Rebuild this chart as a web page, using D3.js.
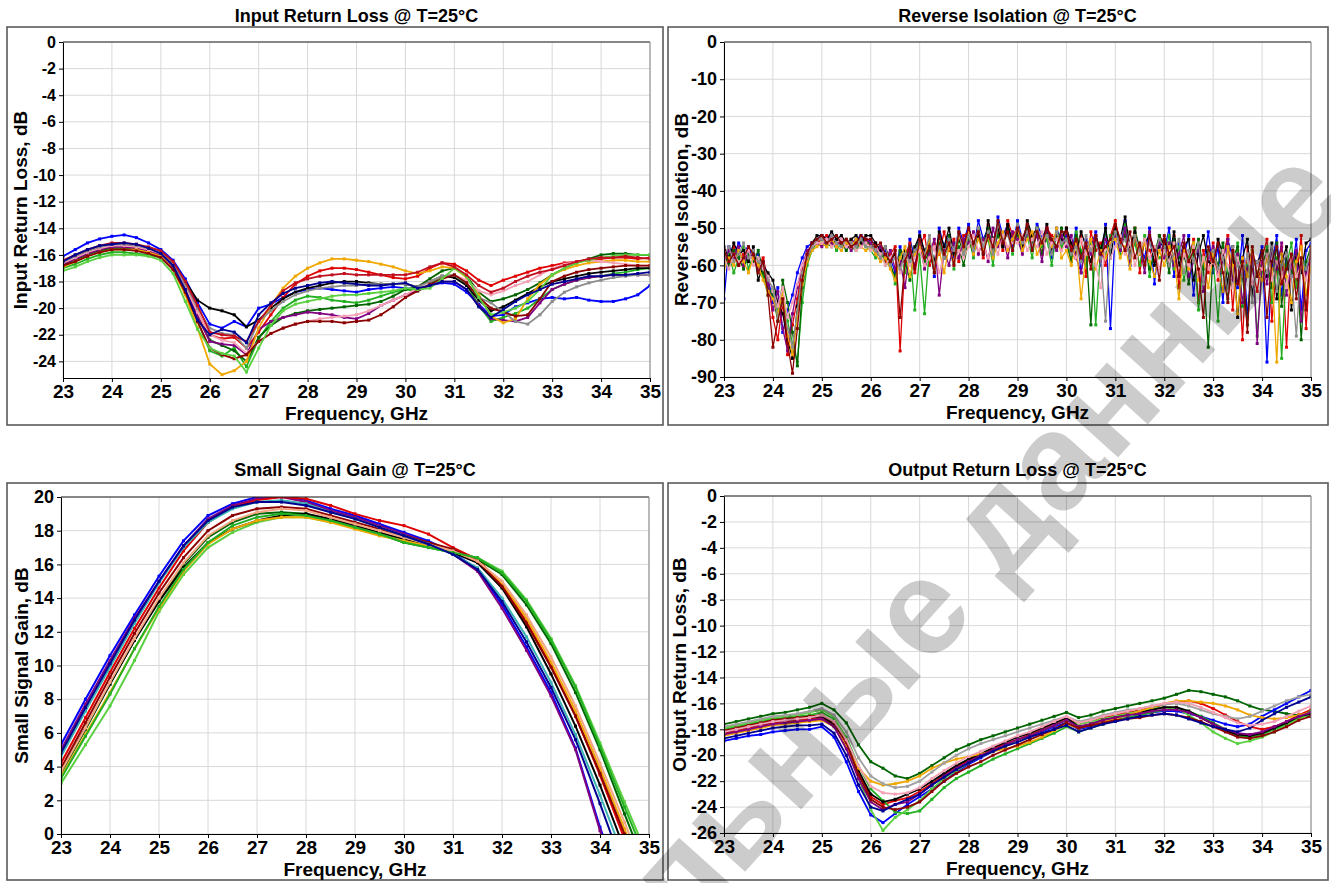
<!DOCTYPE html>
<html>
<head>
<meta charset="utf-8">
<script src="https://cdn.jsdelivr.net/npm/d3@7"></script>
<style>
  body { margin: 0; background: #fff; }
  svg text { font-family: "Liberation Sans", Arial, sans-serif; font-weight: bold; }
</style>
</head>
<body>
<svg id="chart" width="1331" height="883"></svg>
<script>
/*
 * Data
 */
var freqTicks = [23, 24, 25, 26, 27, 28, 29, 30, 31, 32, 33, 34, 35];

// 0.25 GHz sweep used by the return loss traces
var freqQ = [23, 23.25, 23.5, 23.75, 24, 24.25, 24.5, 24.75, 25, 25.25, 25.5, 25.75, 26, 26.25, 26.5, 26.75,
    27, 27.25, 27.5, 27.75, 28, 28.25, 28.5, 28.75, 29, 29.25, 29.5, 29.75, 30, 30.25, 30.5, 30.75,
    31, 31.25, 31.5, 31.75, 32, 32.25, 32.5, 32.75, 33, 33.25, 33.5, 33.75, 34, 34.25, 34.5, 34.75, 35];

// 0.5 GHz sweep used by the gain traces
var freqH = [23, 23.5, 24, 24.5, 25, 25.5, 26, 26.5, 27, 27.5, 28, 28.5, 29, 29.5, 30, 30.5,
    31, 31.5, 32, 32.5, 33, 33.5, 34, 34.5, 35];

// 0.1 GHz sweep used by the isolation traces
var freqT = [23, 23.1, 23.2, 23.3, 23.4, 23.5, 23.6, 23.7, 23.8, 23.9,
    24, 24.1, 24.2, 24.3, 24.4, 24.5, 24.6, 24.7, 24.8, 24.9,
    25, 25.1, 25.2, 25.3, 25.4, 25.5, 25.6, 25.7, 25.8, 25.9,
    26, 26.1, 26.2, 26.3, 26.4, 26.5, 26.6, 26.7, 26.8, 26.9,
    27, 27.1, 27.2, 27.3, 27.4, 27.5, 27.6, 27.7, 27.8, 27.9,
    28, 28.1, 28.2, 28.3, 28.4, 28.5, 28.6, 28.7, 28.8, 28.9,
    29, 29.1, 29.2, 29.3, 29.4, 29.5, 29.6, 29.7, 29.8, 29.9,
    30, 30.1, 30.2, 30.3, 30.4, 30.5, 30.6, 30.7, 30.8, 30.9,
    31, 31.1, 31.2, 31.3, 31.4, 31.5, 31.6, 31.7, 31.8, 31.9,
    32, 32.1, 32.2, 32.3, 32.4, 32.5, 32.6, 32.7, 32.8, 32.9,
    33, 33.1, 33.2, 33.3, 33.4, 33.5, 33.6, 33.7, 33.8, 33.9,
    34, 34.1, 34.2, 34.3, 34.4, 34.5, 34.6, 34.7, 34.8, 34.9, 35];

var irlTicks = [0, -2, -4, -6, -8, -10, -12, -14, -16, -18, -20, -22, -24];
var isoTicks = [0, -10, -20, -30, -40, -50, -60, -70, -80, -90];
var gainTicks = [0, 2, 4, 6, 8, 10, 12, 14, 16, 18, 20];
var orlTicks = [0, -2, -4, -6, -8, -10, -12, -14, -16, -18, -20, -22, -24, -26];

// Input return loss, dB (one row per device)
var irlTraces = [
    [-16.1,-15.6,-15.1,-14.8,-14.6,-14.5,-14.7,-15.1,-15.6,-16.4,-17.8,-19.6,-21.2,-21.5,-21.0,-21.4,-20.0,-19.7,-19.2,-18.8,-18.6,-18.5,-18.6,-18.7,-18.8,-18.6,-18.5,-18.4,-18.5,-18.6,-18.3,-18.1,-18.2,-18.8,-19.7,-20.6,-20.5,-19.9,-19.6,-19.3,-19.2,-19.3,-19.2,-19.4,-19.5,-19.5,-19.3,-19.0,-18.3],
    [-16.5,-16.1,-15.7,-15.4,-15.2,-15.2,-15.3,-15.6,-15.9,-16.8,-18.4,-20.3,-22.0,-22.3,-22.2,-23.0,-21.8,-20.5,-19.2,-18.2,-17.6,-17.2,-17.0,-17.0,-17.1,-17.3,-17.5,-17.7,-17.8,-17.6,-17.0,-16.6,-16.7,-17.2,-17.9,-18.3,-17.9,-17.6,-17.3,-17.0,-16.8,-16.6,-16.5,-16.4,-16.3,-16.2,-16.2,-16.3,-16.2],
    [-17.0,-16.7,-16.3,-16.0,-15.8,-15.8,-15.9,-16.0,-16.2,-17.0,-18.8,-21.0,-23.2,-23.6,-23.0,-24.4,-22.3,-21.0,-20.0,-19.4,-19.1,-19.2,-19.4,-19.5,-19.6,-19.4,-19.1,-18.8,-18.6,-18.7,-18.2,-17.6,-17.5,-18.2,-19.8,-21.0,-20.7,-20.4,-20.0,-19.3,-18.6,-18.2,-17.9,-17.7,-17.6,-17.4,-17.3,-17.1,-17.0],
    [-16.8,-16.4,-16.0,-15.7,-15.5,-15.5,-15.6,-15.8,-16.0,-16.9,-18.6,-20.6,-22.4,-22.8,-23.2,-24.0,-22.2,-21.3,-20.7,-20.4,-20.2,-20.1,-20.0,-19.9,-19.8,-19.7,-19.5,-19.1,-18.6,-18.4,-17.8,-17.2,-17.0,-17.6,-18.8,-19.5,-19.3,-19.0,-18.6,-18.1,-17.5,-17.0,-16.6,-16.3,-16.0,-15.9,-15.9,-16.0,-16.0],
    [-16.6,-16.2,-15.8,-15.5,-15.3,-15.2,-15.3,-15.5,-15.8,-16.7,-18.0,-19.4,-20.0,-20.2,-20.5,-21.4,-20.9,-20.0,-19.3,-18.8,-18.5,-18.3,-18.1,-18.0,-18.0,-18.1,-18.2,-18.2,-18.2,-18.4,-18.0,-17.6,-17.7,-18.3,-19.4,-20.2,-19.9,-19.4,-18.9,-18.4,-18.0,-17.8,-17.6,-17.4,-17.3,-17.2,-17.1,-17.0,-17.0],
    [-16.7,-16.3,-15.9,-15.6,-15.4,-15.4,-15.5,-15.7,-16.0,-16.9,-18.5,-20.6,-22.5,-22.7,-22.8,-23.5,-21.6,-21.0,-20.7,-20.5,-20.3,-20.4,-20.5,-20.7,-20.8,-20.4,-19.8,-19.4,-19.0,-18.7,-18.3,-18.0,-18.0,-18.6,-19.8,-20.8,-20.9,-21.0,-20.7,-19.6,-18.6,-18.2,-17.9,-17.7,-17.6,-17.5,-17.5,-17.5,-17.5],
    [-16.9,-16.5,-16.1,-15.8,-15.6,-15.6,-15.6,-15.8,-16.1,-17.1,-19.0,-21.5,-24.2,-25.0,-24.7,-24.0,-21.5,-19.8,-18.5,-17.6,-17.0,-16.6,-16.3,-16.3,-16.4,-16.5,-16.7,-16.9,-17.2,-17.4,-17.2,-16.9,-17.0,-17.7,-19.0,-20.6,-21.1,-20.8,-19.3,-18.2,-17.5,-17.1,-16.8,-16.6,-16.5,-16.4,-16.4,-16.5,-16.5],
    [-16.6,-16.2,-15.8,-15.5,-15.3,-15.3,-15.4,-15.6,-15.9,-16.8,-18.4,-20.3,-22.0,-22.4,-22.6,-23.4,-22.5,-21.9,-21.5,-21.2,-21.0,-20.8,-20.7,-20.6,-20.5,-20.2,-19.8,-19.4,-19.0,-18.5,-18.0,-17.6,-17.5,-17.9,-18.7,-19.0,-18.7,-18.3,-18.0,-17.5,-17.0,-16.7,-16.5,-16.4,-16.5,-16.6,-16.7,-16.8,-16.8],
    [-16.5,-16.1,-15.7,-15.4,-15.2,-15.2,-15.3,-15.5,-15.8,-16.6,-18.2,-20.0,-21.5,-21.9,-22.0,-23.0,-21.0,-20.2,-19.5,-19.0,-18.7,-18.5,-18.4,-18.3,-18.3,-18.2,-18.2,-18.2,-18.2,-18.4,-18.0,-17.6,-17.5,-18.1,-19.2,-19.6,-20.3,-21.0,-21.2,-20.5,-19.5,-18.8,-18.4,-18.1,-17.9,-17.7,-17.6,-17.5,-17.5],
    [-16.8,-16.5,-16.1,-15.8,-15.6,-15.6,-15.7,-15.9,-16.2,-17.1,-18.8,-21.0,-23.0,-23.5,-23.8,-23.5,-22.5,-21.9,-21.5,-21.2,-21.0,-21.0,-21.0,-21.1,-21.0,-20.9,-20.5,-19.9,-19.2,-18.7,-18.2,-17.8,-17.5,-18.1,-19.2,-20.0,-20.3,-20.6,-20.5,-19.3,-18.0,-17.6,-17.3,-17.1,-17.0,-16.9,-16.8,-16.8,-16.8],
    [-17.2,-16.9,-16.5,-16.2,-16.0,-16.0,-16.0,-16.1,-16.4,-17.4,-19.5,-21.6,-23.0,-23.4,-23.6,-24.8,-23.0,-21.3,-20.2,-19.7,-19.5,-19.3,-19.1,-19.0,-19.0,-18.9,-18.8,-18.7,-18.5,-18.6,-18.5,-17.8,-17.0,-17.6,-19.2,-20.5,-20.3,-20.0,-19.5,-18.6,-17.5,-17.0,-16.6,-16.4,-16.2,-16.1,-16.0,-16.0,-16.0],
    [-16.4,-16.0,-15.6,-15.3,-15.1,-15.1,-15.2,-15.4,-15.7,-16.5,-18.0,-19.8,-21.8,-22.0,-22.1,-22.5,-21.0,-19.8,-18.7,-18.1,-17.8,-17.6,-17.5,-17.4,-17.5,-17.5,-17.5,-17.5,-17.5,-17.3,-16.9,-16.6,-16.9,-17.5,-18.3,-18.8,-18.5,-18.0,-17.6,-17.3,-17.1,-16.8,-16.5,-16.3,-16.2,-16.2,-16.1,-16.2,-16.3],
    [-16.5,-16.0,-15.6,-15.3,-15.2,-15.1,-15.2,-15.5,-15.9,-16.8,-18.6,-20.9,-22.0,-21.6,-21.8,-22.6,-20.5,-19.6,-18.9,-18.5,-18.3,-18.1,-18.0,-18.1,-18.2,-18.3,-18.3,-18.2,-18.1,-18.5,-18.3,-18.0,-18.0,-18.6,-19.9,-20.7,-20.1,-19.5,-19.0,-18.6,-18.2,-18.0,-17.8,-17.6,-17.6,-17.5,-17.5,-17.4,-17.3]
];

// Reverse isolation, dB (0.1 GHz sweep, one row per device)
var isoTraces = [
    [-69,-55,-57,-54,-56,-55,-58,-57,-61,-63, -70,-66,-78,-72,-68,-62,-58,-55,-54,-53, -52,-53,-52,-54,-53,-55,-54,-53,-52,-54,
     -53,-55,-57,-56,-58,-62,-55,-60,-53,-58, -51,-57,-53,-63,-50,-55,-52,-58,-50,-54, -49,-56,-48,-53,-50,-57,-47,-52,-49,-55,
     -48,-53,-50,-56,-49,-52,-51,-58,-50,-54, -52,-57,-50,-62,-53,-55,-51,-60,-49,-77, -50,-56,-48,-60,-52,-55,-58,-50,-65,-53,
     -56,-50,-63,-54,-58,-52,-68,-55,-60,-51, -62,-55,-70,-53,-58,-66,-52,-74,-57,-60, -55,-86,-60,-52,-68,-57,-63,-53,-72,-56, -54],
    [-56,-59,-55,-60,-57,-58,-56,-60,-58,-64, -74,-80,-70,-84,-76,-69,-61,-57,-55,-54, -53,-52,-54,-53,-55,-54,-53,-55,-54,-53,
     -55,-54,-56,-59,-57,-55,-83,-58,-54,-62, -55,-52,-60,-54,-57,-51,-56,-53,-59,-52, -51,-55,-50,-58,-49,-53,-51,-56,-48,-52,
     -50,-55,-49,-53,-51,-57,-50,-52,-53,-56, -50,-55,-58,-52,-63,-51,-56,-54,-60,-52, -48,-54,-51,-57,-50,-62,-53,-56,-59,-52,
     -54,-60,-52,-66,-55,-58,-53,-70,-56,-62, -54,-64,-58,-52,-72,-56,-80,-55,-61,-67, -58,-53,-75,-60,-55,-82,-57,-64,-52,-77, -56],
    [-60,-57,-62,-58,-55,-61,-57,-59,-63,-68, -66,-72,-69,-75,-81,-86,-70,-60,-56,-54, -54,-55,-53,-56,-54,-53,-55,-56,-54,-55,
     -56,-58,-55,-60,-59,-65,-57,-62,-55,-72, -57,-73,-55,-60,-52,-58,-54,-61,-53,-57, -52,-58,-50,-55,-53,-60,-49,-54,-51,-57,
     -49,-54,-52,-58,-50,-55,-53,-60,-51,-55, -53,-58,-51,-56,-60,-54,-76,-55,-57,-52, -51,-57,-49,-58,-54,-60,-52,-63,-55,-58,
     -57,-52,-61,-55,-64,-58,-54,-72,-60,-56, -58,-75,-55,-62,-66,-54,-71,-60,-56,-79, -62,-55,-70,-58,-85,-60,-54,-66,-58,-61, -58],
    [-57,-60,-56,-58,-61,-57,-59,-56,-62,-66, -68,-75,-64,-70,-78,-87,-66,-59,-55,-53, -53,-54,-55,-53,-54,-56,-54,-55,-53,-54,
     -54,-56,-58,-57,-60,-63,-56,-59,-64,-56, -53,-59,-56,-62,-54,-58,-52,-57,-55,-60, -53,-57,-51,-54,-50,-56,-52,-55,-50,-53,
     -52,-56,-50,-54,-52,-57,-51,-53,-55,-50, -54,-59,-52,-57,-55,-76,-53,-58,-51,-56, -49,-55,-52,-58,-50,-56,-53,-61,-57,-52,
     -55,-62,-53,-58,-56,-65,-57,-53,-61,-82, -56,-60,-54,-69,-58,-55,-63,-76,-57,-62, -60,-56,-66,-54,-71,-58,-62,-57,-80,-59, -55],
    [-55,-58,-54,-57,-56,-59,-55,-64,-60,-62, -64,-70,-73,-80,-85,-71,-63,-58,-54,-52, -52,-53,-51,-53,-52,-54,-53,-52,-54,-52,
     -52,-54,-56,-55,-59,-57,-60,-56,-58,-55, -52,-56,-54,-59,-51,-55,-50,-57,-53,-56, -50,-54,-52,-57,-48,-53,-50,-55,-49,-54,
     -51,-55,-48,-52,-50,-54,-49,-56,-52,-53, -50,-54,-57,-51,-55,-59,-52,-56,-50,-58, -50,-53,-47,-55,-51,-57,-54,-52,-60,-55,
     -53,-58,-51,-60,-55,-53,-64,-57,-52,-59, -60,-53,-57,-65,-55,-74,-58,-53,-68,-59, -57,-63,-54,-69,-59,-55,-72,-58,-62,-54, -53],
    [-59,-56,-58,-55,-60,-56,-58,-61,-59,-65, -72,-67,-77,-83,-73,-66,-60,-56,-55,-54, -55,-53,-54,-55,-53,-54,-56,-54,-55,-53,
     -54,-57,-55,-58,-56,-61,-59,-66,-56,-60, -54,-61,-57,-53,-68,-56,-60,-54,-58,-53, -54,-51,-57,-53,-59,-50,-55,-52,-58,-51,
     -53,-57,-51,-55,-52,-59,-50,-54,-56,-52, -55,-52,-58,-62,-54,-57,-52,-59,-53,-55, -52,-56,-50,-59,-53,-55,-62,-51,-57,-54,
     -58,-54,-60,-57,-52,-63,-59,-55,-67,-58, -55,-62,-59,-53,-64,-57,-70,-61,-56,-81, -59,-65,-56,-61,-54,-68,-60,-56,-75,-62, -57],
    [-61,-58,-60,-56,-59,-62,-58,-60,-64,-67, -69,-73,-67,-79,-84,-74,-65,-59,-56,-55, -54,-55,-53,-55,-56,-54,-55,-53,-55,-56,
     -55,-57,-59,-58,-61,-64,-58,-55,-63,-57, -55,-58,-53,-61,-56,-62,-55,-59,-52,-56, -51,-57,-53,-56,-52,-58,-54,-51,-56,-53,
     -50,-56,-53,-51,-57,-54,-52,-55,-50,-58, -56,-60,-54,-69,-57,-53,-61,-56,-58,-54, -53,-58,-55,-61,-52,-57,-54,-59,-63,-56,
     -60,-55,-58,-69,-56,-61,-54,-64,-58,-66, -57,-61,-67,-55,-60,-73,-58,-63,-56,-62, -64,-58,-61,-86,-57,-63,-70,-59,-55,-68, -60],
    [-58,-61,-57,-59,-58,-56,-60,-58,-61,-63, -67,-71,-66,-74,-70,-65,-60,-57,-55,-54, -54,-53,-55,-54,-53,-55,-54,-56,-55,-54,
     -56,-55,-57,-60,-58,-56,-62,-57,-60,-58, -56,-60,-58,-55,-62,-57,-54,-60,-56,-58, -55,-52,-56,-54,-58,-53,-57,-52,-55,-54,
     -54,-52,-56,-53,-55,-51,-57,-54,-53,-56, -54,-56,-58,-53,-57,-55,-60,-66,-55,-58, -55,-52,-57,-54,-60,-56,-53,-58,-55,-61,
     -56,-59,-54,-62,-57,-60,-55,-63,-58,-61, -59,-63,-56,-60,-66,-58,-62,-57,-65,-60, -61,-57,-64,-59,-62,-66,-58,-63,-60,-64, -59],
    [-57,-55,-59,-57,-54,-58,-56,-59,-60,-64, -66,-74,-70,-77,-82,-72,-62,-58,-55,-53, -53,-54,-52,-54,-55,-53,-54,-55,-53,-55,
     -55,-56,-58,-55,-60,-58,-61,-57,-59,-56, -54,-57,-52,-60,-55,-58,-53,-56,-51,-57, -52,-56,-50,-55,-51,-57,-49,-53,-52,-56,
     -49,-54,-51,-55,-50,-53,-52,-57,-51,-54, -53,-57,-55,-59,-52,-56,-54,-58,-75,-55, -51,-55,-53,-58,-52,-56,-59,-54,-57,-53,
     -55,-60,-57,-53,-62,-56,-59,-54,-65,-57, -56,-61,-58,-67,-55,-60,-63,-57,-70,-59, -58,-62,-55,-67,-60,-57,-63,-79,-59,-61, -56],
    [-56,-59,-57,-60,-58,-55,-57,-62,-59,-68, -82,-75,-69,-81,-89,-77,-64,-57,-54,-53, -52,-54,-53,-52,-54,-53,-55,-54,-52,-53,
     -53,-55,-54,-57,-59,-56,-74,-59,-55,-61, -53,-58,-55,-62,-52,-57,-54,-60,-51,-55, -50,-54,-51,-57,-52,-55,-48,-54,-51,-56,
     -50,-53,-49,-56,-51,-54,-50,-53,-55,-51, -51,-56,-53,-58,-54,-61,-52,-57,-55,-53, -49,-53,-56,-51,-58,-54,-60,-52,-56,-64,
     -52,-57,-55,-63,-54,-59,-56,-61,-74,-55, -59,-54,-62,-70,-56,-65,-59,-78,-55,-63, -56,-74,-59,-55,-65,-61,-57,-69,-58,-72, -55]
];

// Small signal gain, dB (0.5 GHz sweep)
var gainTraces = [
    [5.3, 8.0, 10.6, 13.0, 15.3, 17.4, 18.9, 19.6, 20.0, 20.1, 19.8, 19.3, 18.9, 18.4, 17.9, 17.4, 16.7, 15.7, 13.6, 11.1, 8.4, 5.1, 0.4, -3.6, -7.5],
    [5.0, 7.7, 10.3, 12.8, 15.0, 17.1, 18.7, 19.5, 19.9, 20.0, 19.7, 19.2, 18.8, 18.3, 17.8, 17.3, 16.6, 15.6, 13.4, 10.9, 8.2, 5.0, 0.2, -4.0, -8.0],
    [4.2, 6.9, 9.6, 12.2, 14.6, 16.8, 18.5, 19.4, 19.8, 20.0, 19.9, 19.5, 19.0, 18.6, 18.3, 17.8, 17.0, 16.3, 14.8, 12.6, 10.0, 7.0, 3.5, -0.3, -4.2],
    [3.6, 6.2, 8.9, 11.5, 13.9, 16.0, 17.6, 18.5, 19.0, 19.1, 19.0, 18.6, 18.2, 17.8, 17.3, 17.0, 16.7, 16.3, 15.4, 13.6, 11.3, 8.4, 5.0, 1.2, -2.5],
    [3.0, 5.3, 7.6, 10.3, 13.2, 15.4, 17.0, 17.9, 18.5, 18.8, 18.8, 18.5, 18.2, 17.8, 17.4, 17.0, 16.7, 16.4, 15.6, 13.9, 11.6, 8.8, 5.4, 1.9, -1.5],
    [3.8, 6.3, 8.9, 11.5, 13.8, 15.8, 17.3, 18.1, 18.6, 18.9, 19.0, 18.7, 18.3, 17.9, 17.5, 17.1, 16.7, 16.1, 14.6, 12.3, 9.5, 6.4, 2.9, -0.9, -4.8],
    [3.4, 5.9, 8.4, 11.0, 13.4, 15.6, 17.2, 18.1, 18.6, 18.8, 18.8, 18.5, 18.1, 17.7, 17.4, 17.1, 16.8, 16.2, 14.9, 12.8, 10.2, 7.3, 3.9, 0.3, -3.4],
    [3.9, 6.6, 9.3, 11.9, 14.3, 16.4, 18.0, 18.9, 19.3, 19.4, 19.3, 18.9, 18.5, 18.1, 17.7, 17.3, 16.9, 16.2, 14.7, 12.5, 9.9, 7.0, 3.6, 0.0, -3.8],
    [3.7, 6.3, 9.0, 11.6, 14.0, 16.1, 17.7, 18.6, 19.1, 19.3, 19.2, 18.8, 18.4, 18.0, 17.6, 17.2, 16.8, 16.2, 15.0, 13.0, 10.5, 7.6, 4.2, 0.7, -3.0],
    [4.6, 7.3, 9.9, 12.5, 14.9, 17.0, 18.5, 19.3, 19.7, 19.8, 19.6, 19.1, 18.7, 18.2, 17.7, 17.2, 16.6, 15.8, 14.0, 11.7, 9.0, 5.9, 2.3, -1.5, -5.4],
    [3.3, 5.8, 8.3, 11.0, 13.5, 15.7, 17.3, 18.3, 18.8, 19.0, 18.9, 18.6, 18.2, 17.8, 17.3, 17.0, 16.7, 16.4, 15.5, 13.8, 11.5, 8.7, 5.2, 1.6, -1.9],
    [4.8, 7.5, 10.1, 12.7, 15.0, 17.1, 18.6, 19.4, 19.7, 19.7, 19.5, 19.1, 18.7, 18.2, 17.7, 17.2, 16.6, 15.7, 13.8, 11.4, 8.7, 5.6, 1.8, -2.2, -6.0]
];

// Output return loss, dB (0.25 GHz sweep)
var orlTraces = [
    [-17.6,-17.4,-17.2,-17.0,-16.8,-16.7,-16.5,-16.3,-16.0,-16.5,-17.5,-19.2,-20.5,-21.0,-21.6,-21.8,-21.4,-20.8,-20.2,-19.6,-19.2,-18.8,-18.5,-18.2,-17.9,-17.6,-17.3,-17.0,-16.7,-17.1,-16.9,-16.6,-16.4,-16.2,-16.0,-15.8,-15.6,-15.3,-15.0,-15.1,-15.3,-15.5,-15.8,-16.2,-16.5,-16.6,-16.8,-16.9,-17.0],
    [-18.9,-18.7,-18.5,-18.4,-18.2,-18.1,-18.0,-18.0,-17.8,-18.6,-20.5,-22.8,-24.6,-25.2,-24.5,-23.8,-23.2,-22.6,-22.0,-21.3,-20.7,-20.2,-19.7,-19.3,-18.9,-18.6,-18.2,-17.8,-17.5,-18.0,-17.8,-17.5,-17.3,-17.1,-16.9,-16.7,-16.6,-16.6,-16.8,-17.0,-17.3,-17.6,-17.8,-17.6,-17.0,-16.5,-16.0,-15.5,-15.0],
    [-18.3,-18.1,-17.9,-17.7,-17.5,-17.4,-17.3,-17.2,-17.1,-17.7,-19.2,-21.4,-23.2,-23.8,-23.5,-23.3,-22.8,-22.2,-21.5,-20.9,-20.4,-20.0,-19.5,-19.1,-18.8,-18.4,-18.0,-17.6,-17.2,-17.6,-17.4,-17.1,-16.9,-16.7,-16.5,-16.3,-16.1,-15.9,-15.8,-16.0,-16.4,-16.9,-17.4,-17.8,-18.0,-17.8,-17.4,-16.9,-16.5],
    [-18.0,-17.8,-17.6,-17.4,-17.2,-17.1,-17.0,-16.9,-16.7,-17.2,-18.6,-20.8,-22.6,-23.5,-24.4,-24.5,-24.3,-23.4,-22.5,-21.8,-21.3,-20.8,-20.3,-19.9,-19.5,-19.1,-18.7,-18.3,-17.8,-18.2,-17.9,-17.6,-17.3,-17.1,-16.9,-16.7,-16.5,-16.4,-16.6,-17.0,-17.5,-18.0,-18.5,-18.6,-18.4,-18.0,-17.6,-17.1,-16.6],
    [-17.9,-17.7,-17.5,-17.3,-17.1,-17.0,-16.9,-16.7,-16.5,-17.0,-18.8,-21.8,-24.2,-25.8,-24.8,-24.2,-23.5,-22.6,-21.8,-21.2,-20.6,-20.1,-19.7,-19.3,-18.9,-18.5,-18.1,-17.7,-17.3,-17.6,-17.4,-17.2,-17.0,-16.8,-16.6,-16.4,-16.3,-16.4,-16.9,-17.5,-18.2,-18.7,-19.1,-18.9,-18.6,-18.2,-17.7,-17.2,-16.8],
    [-18.2,-18.0,-17.8,-17.6,-17.4,-17.3,-17.2,-17.1,-17.0,-17.6,-19.0,-21.2,-23.0,-23.6,-23.4,-23.0,-22.6,-22.0,-21.4,-20.8,-20.3,-19.9,-19.4,-19.0,-18.6,-18.3,-17.9,-17.5,-17.1,-17.8,-17.6,-17.3,-17.1,-16.9,-16.7,-16.5,-16.3,-16.3,-16.6,-17.1,-17.6,-18.1,-18.4,-18.5,-18.3,-17.9,-17.5,-17.0,-16.8],
    [-18.5,-18.3,-18.1,-17.9,-17.7,-17.6,-17.5,-17.4,-17.3,-17.8,-19.3,-21.0,-22.0,-22.3,-22.2,-22.0,-21.6,-21.0,-20.6,-20.3,-20.1,-19.9,-19.7,-19.5,-19.3,-19.0,-18.6,-18.1,-17.6,-17.9,-17.7,-17.4,-17.2,-16.9,-16.6,-16.3,-16.0,-15.8,-15.8,-15.9,-16.0,-16.2,-16.5,-16.9,-17.1,-17.2,-17.1,-16.9,-16.7],
    [-18.4,-18.2,-18.0,-17.8,-17.6,-17.5,-17.4,-17.3,-17.2,-17.8,-19.5,-21.8,-23.6,-24.2,-23.8,-23.6,-23.0,-22.3,-21.6,-21.0,-20.5,-20.0,-19.6,-19.2,-18.8,-18.5,-18.1,-17.7,-17.3,-17.8,-17.6,-17.3,-17.1,-16.9,-16.8,-16.6,-16.5,-16.5,-16.7,-17.1,-17.6,-18.0,-18.3,-18.4,-18.2,-17.8,-17.4,-17.0,-16.7],
    [-17.8,-17.6,-17.4,-17.2,-17.0,-16.9,-16.8,-16.6,-16.4,-16.9,-18.2,-20.2,-21.6,-22.2,-22.5,-22.4,-22.0,-21.3,-20.6,-20.0,-19.5,-19.1,-18.8,-18.5,-18.2,-17.9,-17.6,-17.3,-17.0,-17.4,-17.2,-16.9,-16.7,-16.5,-16.4,-16.2,-16.1,-16.0,-16.2,-16.5,-16.8,-17.0,-17.2,-17.0,-16.6,-16.2,-15.8,-15.5,-15.3],
    [-18.1,-17.9,-17.7,-17.5,-17.3,-17.2,-17.1,-17.0,-16.9,-17.5,-19.0,-21.5,-23.4,-24.0,-24.2,-24.0,-23.6,-22.8,-22.0,-21.4,-20.9,-20.5,-20.0,-19.6,-19.2,-18.8,-18.4,-18.0,-17.5,-17.9,-17.7,-17.5,-17.3,-17.2,-17.1,-16.9,-16.8,-16.9,-17.1,-17.4,-17.8,-18.2,-18.6,-18.7,-18.5,-18.2,-17.8,-17.3,-17.0],
    [-18.7,-18.5,-18.3,-18.1,-17.9,-17.8,-17.7,-17.7,-17.6,-18.3,-20.0,-22.3,-24.0,-24.3,-23.8,-23.4,-23.0,-22.3,-21.7,-21.1,-20.6,-20.1,-19.7,-19.3,-19.0,-18.6,-18.3,-18.0,-17.7,-18.2,-17.9,-17.6,-17.4,-17.2,-17.0,-16.9,-16.8,-16.9,-17.2,-17.5,-17.8,-18.0,-18.2,-17.9,-17.3,-16.8,-16.3,-15.9,-15.5],
    [-18.2,-18.0,-17.8,-17.6,-17.4,-17.3,-17.2,-17.1,-16.9,-17.4,-18.8,-20.8,-22.4,-22.9,-23.0,-22.9,-22.5,-21.8,-21.2,-20.6,-20.1,-19.7,-19.3,-18.9,-18.5,-18.2,-17.8,-17.4,-17.0,-17.5,-17.3,-17.0,-16.8,-16.6,-16.4,-16.2,-16.0,-15.9,-16.0,-16.3,-16.7,-17.1,-17.5,-17.7,-17.6,-17.4,-17.0,-16.6,-16.2]
];

/*
 * Trace colours, one list per panel in the order of its rows
 */
var palette = ['#0000ff', '#e00000', '#22b022', '#006400', '#000000', '#800080',
    '#f0a800', '#f4a0b4', '#8c8c8c', '#8b0000', '#5ad040', '#c01020', '#000090'];
var gainPalette = ['#0000ff', '#800080', '#e00000', '#006400', '#5ad040', '#000000',
    '#f0a800', '#8b0000', '#f4a582', '#3cb4b4', '#22b022', '#000090'];
var orlPalette = ['#006400', '#0000ff', '#e00000', '#22b022', '#5ad040', '#000000',
    '#f0a800', '#800080', '#a0a0a0', '#8b0000', '#000090', '#f4a0b4'];

var svg = d3.select('#chart');

function drawPanel(p) {
    var g = svg.append('g');

    // outer frame
    g.append('rect')
        .attr('x', p.frame[0]).attr('y', p.frame[1])
        .attr('width', p.frame[2]).attr('height', p.frame[3])
        .attr('fill', 'none').attr('stroke', '#5a5a5a').attr('stroke-width', 1.6);

    var x = d3.scaleLinear().domain([23, 35]).range([p.left, p.right]);
    var y = d3.scaleLinear().domain(p.yDomain).range([p.bottom, p.top]);

    // grid
    g.append('g').selectAll('line').data(freqTicks).enter().append('line')
        .attr('x1', function(d) { return x(d); }).attr('x2', function(d) { return x(d); })
        .attr('y1', p.top).attr('y2', p.bottom)
        .attr('stroke', '#d8d8d8').attr('stroke-width', 1);
    g.append('g').selectAll('line').data(p.yTicks).enter().append('line')
        .attr('x1', p.left).attr('x2', p.right)
        .attr('y1', function(d) { return y(d); }).attr('y2', function(d) { return y(d); })
        .attr('stroke', '#d8d8d8').attr('stroke-width', 1);

    // clip to plot area
    var clipId = 'clip' + p.id;
    svg.append('clipPath').attr('id', clipId).append('rect')
        .attr('x', p.left).attr('y', p.top)
        .attr('width', p.right - p.left).attr('height', p.bottom - p.top);

    var plot = g.append('g').attr('clip-path', 'url(#' + clipId + ')');
    var line = d3.line()
        .x(function(d) { return x(d[0]); })
        .y(function(d) { return y(d[1]); });

    p.traces.forEach(function(vals, k) {
        var pts = p.freq.map(function(f, i) { return [f, vals[i]]; });
        var col = p.colors[k % p.colors.length];
        plot.append('path').datum(pts)
            .attr('d', line)
            .attr('fill', 'none')
            .attr('stroke', col)
            .attr('stroke-width', p.lineWidth);
        plot.append('g').selectAll('rect').data(pts).enter().append('rect')
            .attr('x', function(d) { return x(d[0]) - p.marker / 2; })
            .attr('y', function(d) { return y(d[1]) - p.marker / 2; })
            .attr('width', p.marker).attr('height', p.marker)
            .attr('fill', col);
    });

    // plot border (top / right)
    g.append('line').attr('x1', p.left).attr('x2', p.right).attr('y1', p.top).attr('y2', p.top)
        .attr('stroke', '#222').attr('stroke-width', 1);
    g.append('line').attr('x1', p.right).attr('x2', p.right).attr('y1', p.top).attr('y2', p.bottom)
        .attr('stroke', '#888').attr('stroke-width', 1);

    // axes
    var ax = g.append('g').attr('transform', 'translate(0,' + p.bottom + ')')
        .call(d3.axisBottom(x).tickValues(freqTicks).tickSize(4).tickSizeOuter(0).tickFormat(d3.format('d')));
    ax.selectAll('text').attr('font-size', 19).attr('fill', '#000');
    var ay = g.append('g').attr('transform', 'translate(' + p.left + ',0)')
        .call(d3.axisLeft(y).tickValues(p.yTicks).tickSize(4).tickSizeOuter(0));
    ay.selectAll('text').attr('font-size', p.yTickFont).attr('fill', '#000')
        .text(function(d) { return String(d); });
    g.selectAll('.domain').attr('stroke', '#000');
    g.selectAll('.tick line').attr('stroke', '#000');

    // titles
    var cx = (p.left + p.right) / 2;
    g.append('text').attr('x', cx).attr('y', p.titleY)
        .attr('text-anchor', 'middle').attr('font-size', 18).text(p.title);
    g.append('text').attr('x', cx).attr('y', p.bottom + 42)
        .attr('text-anchor', 'middle').attr('font-size', 19).text('Frequency, GHz');
    g.append('text')
        .attr('transform', 'translate(' + p.yLabelX + ',' + ((p.top + p.bottom) / 2) + ') rotate(-90)')
        .attr('text-anchor', 'middle').attr('font-size', 19).text(p.yLabel);
}

drawPanel({
    id: 1, title: 'Input Return Loss @ T=25°C', yLabel: 'Input Return Loss, dB',
    frame: [7, 27, 656, 398], left: 63, right: 650, top: 42, bottom: 378,
    yDomain: [-25.25, 0], yTicks: irlTicks, yTickFont: 16, titleY: 22, yLabelX: 27,
    freq: freqQ, traces: irlTraces, colors: palette, lineWidth: 1.8, marker: 3
});
drawPanel({
    id: 2, title: 'Reverse Isolation @ T=25°C', yLabel: 'Reverse Isolation, dB',
    frame: [668, 27, 660, 398], left: 724, right: 1311, top: 42, bottom: 377,
    yDomain: [-90, 0], yTicks: isoTicks, yTickFont: 18, titleY: 22, yLabelX: 688,
    freq: freqT, traces: isoTraces, colors: palette, lineWidth: 1.3, marker: 3
});
drawPanel({
    id: 3, title: 'Small Signal Gain @ T=25°C', yLabel: 'Small Signal Gain, dB',
    frame: [7, 483, 656, 397], left: 61, right: 649, top: 497, bottom: 834,
    yDomain: [0, 20], yTicks: gainTicks, yTickFont: 18, titleY: 476, yLabelX: 28,
    freq: freqH, traces: gainTraces, colors: gainPalette, lineWidth: 2, marker: 3
});
drawPanel({
    id: 4, title: 'Output Return Loss @ T=25°C', yLabel: 'Output Return Loss, dB',
    frame: [668, 483, 660, 397], left: 724, right: 1311, top: 496, bottom: 833,
    yDomain: [-26, 0], yTicks: orlTicks, yTickFont: 18, titleY: 476, yLabelX: 686,
    freq: freqQ, traces: orlTraces, colors: orlPalette, lineWidth: 1.8, marker: 3
});

// watermark across the right half
svg.append('text')
    .attr('transform', 'translate(1350,200) rotate(-48)')
    .attr('text-anchor', 'end')
    .attr('font-size', 136)
    .attr('font-weight', 'bold')
    .attr('fill', '#000')
    .attr('fill-opacity', 0.2)
    .text('Предварительные данные');
</script>
</body>
</html>
